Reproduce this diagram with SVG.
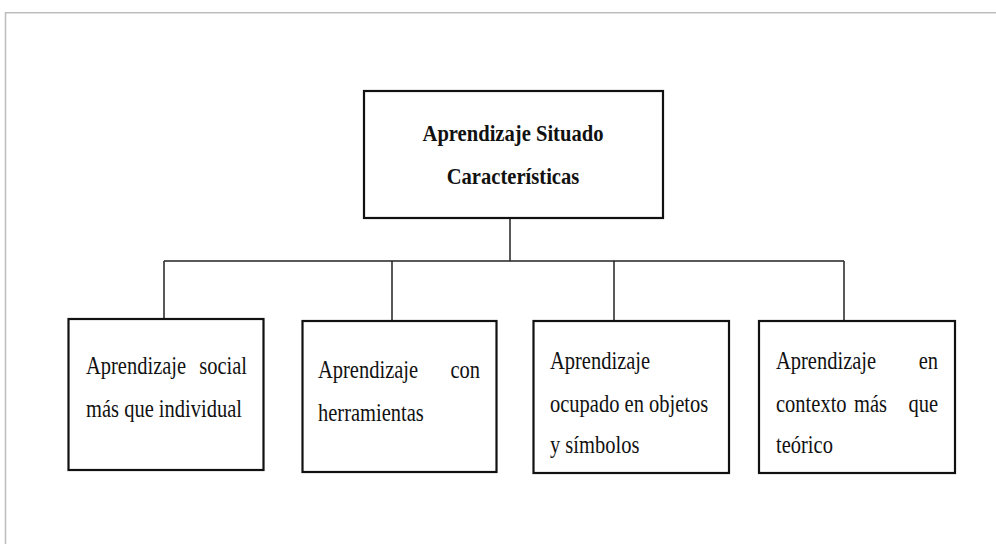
<svg xmlns="http://www.w3.org/2000/svg" width="996" height="544" viewBox="0 0 996 544">
<style>
.box{fill:#fff;stroke:#111;stroke-width:2.2}
.ln{fill:none;stroke:#222;stroke-width:1.5}
.t{font-family:"Liberation Serif","Times New Roman",serif;font-size:20.5px;fill:#111}
.h{font-family:"Liberation Serif","Times New Roman",serif;font-size:20.6px;font-weight:bold;fill:#111;text-anchor:middle}
</style>
<rect width="996" height="544" fill="#fff"/>
<path d="M5.5 544 V12.8 H996" fill="none" stroke="#bdbdbd" stroke-width="1.5"/>
<g id="connectors">
<path class="ln" d="M510 218 V261"/>
<path class="ln" d="M164 261 H844"/>
<path class="ln" d="M164 261 V319"/>
<path class="ln" d="M392 261 V321"/>
<path class="ln" d="M614 261 V321"/>
<path class="ln" d="M844 261 V321"/>
</g>
<g id="root">
<rect class="box" x="364" y="91" width="299" height="127"/>
<text class="h" transform="translate(513 141) scale(1 1.1)">Aprendizaje Situado</text>
<text class="h" transform="translate(513 184) scale(1 1.1)">Características</text>
</g>
<g id="n1">
<rect class="box" x="68.5" y="319" width="195" height="151"/>
<text class="t" transform="translate(86 374) scale(1 1.22)"><tspan x="0">Aprendizaje</tspan><tspan x="161" text-anchor="end">social</tspan></text>
<text class="t" transform="translate(86 417) scale(1 1.22)">más que individual</text>
</g>
<g id="n2">
<rect class="box" x="302.5" y="321" width="194" height="151"/>
<text class="t" transform="translate(318 378) scale(1 1.22)"><tspan x="0">Aprendizaje</tspan><tspan x="162" text-anchor="end">con</tspan></text>
<text class="t" transform="translate(318 421) scale(1 1.22)">herramientas</text>
</g>
<g id="n3">
<rect class="box" x="533.5" y="321" width="195.5" height="152"/>
<text class="t" transform="translate(550 369) scale(1 1.22)">Aprendizaje</text>
<text class="t" transform="translate(550 412) scale(1 1.22)">ocupado en objetos</text>
<text class="t" transform="translate(550 453) scale(1 1.22)">y símbolos</text>
</g>
<g id="n4">
<rect class="box" x="759" y="321" width="196" height="152"/>
<text class="t" transform="translate(776 369) scale(1 1.22)"><tspan x="0">Aprendizaje</tspan><tspan x="162" text-anchor="end">en</tspan></text>
<text class="t" transform="translate(776 412) scale(1 1.22)"><tspan x="0">contexto</tspan><tspan x="94.5" text-anchor="middle">más</tspan><tspan x="162" text-anchor="end">que</tspan></text>
<text class="t" transform="translate(776 453) scale(1 1.22)">teórico</text>
</g>
</svg>
